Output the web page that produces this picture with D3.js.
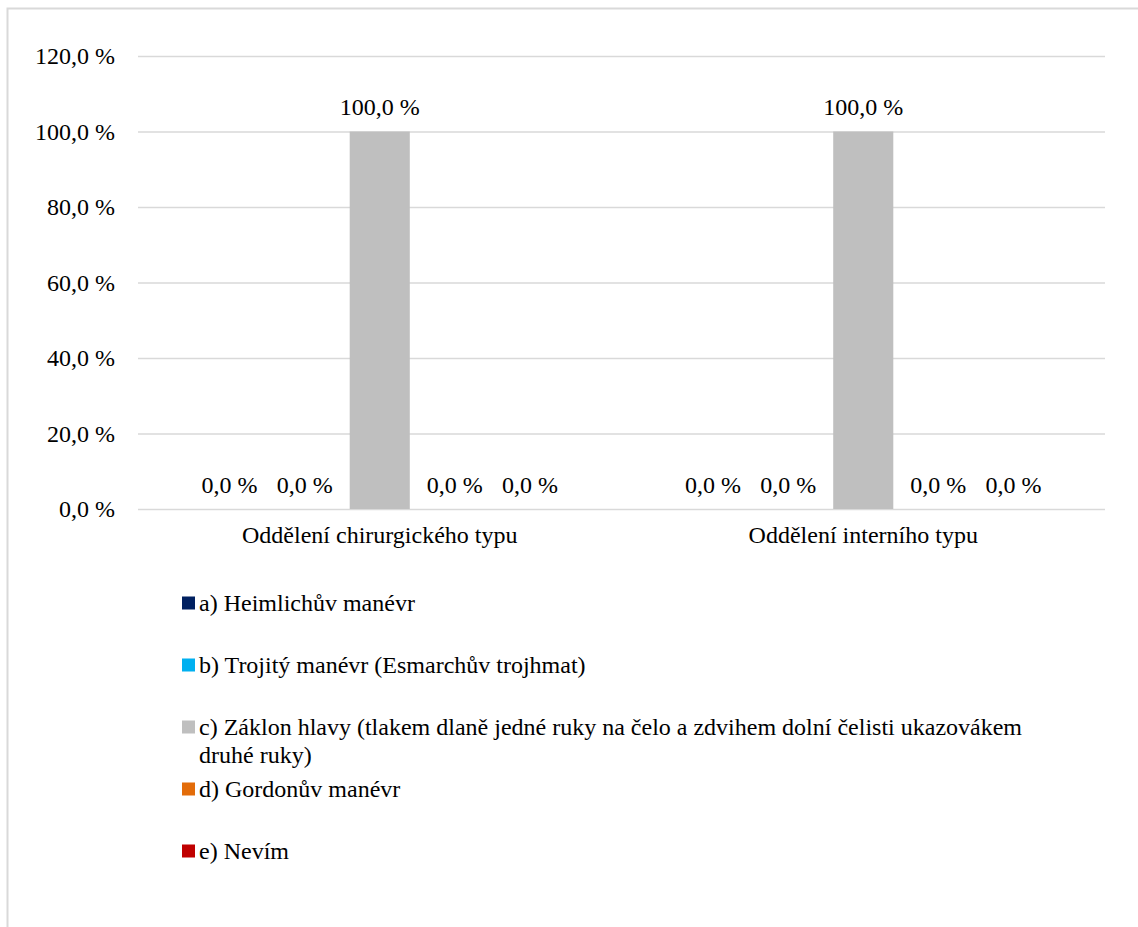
<!DOCTYPE html>
<html>
<head>
<meta charset="utf-8">
<script src="https://cdn.jsdelivr.net/npm/d3@7"></script>
<style>
  html, body { margin: 0; padding: 0; background: #fff; }
  svg { display: block; }
</style>
</head>
<body>
<svg id="chart" width="1138" height="927"></svg>
<script>
// Departments (category groups)
const categories = ["Oddělení chirurgického typu", "Oddělení interního typu"];

// Answer options (series)
const series = [
  "a) Heimlichův manévr",
  "b) Trojitý manévr (Esmarchův trojhmat)",
  "c) Záklon hlavy (tlakem dlaně jedné ruky na čelo a zdvihem dolní čelisti ukazovákem druhé ruky)",
  "d) Gordonův manévr",
  "e) Nevím"
];
const seriesColors = ["#002060", "#00b0f0", "#bfbfbf", "#e36c09", "#c00000"];

// Share of respondents per option, one array per department
const surgicalValues = [0.0, 0.0, 1.0, 0.0, 0.0];
const internalValues = [0.0, 0.0, 1.0, 0.0, 0.0];

// Value axis ticks
const yTicks = [0, 0.2, 0.4, 0.6, 0.8, 1.0, 1.2];

const valuesByCategory = [surgicalValues, internalValues];
const rows = categories.map((c, i) => ({
  category: c,
  values: series.map((s, j) => ({ key: s, value: valuesByCategory[i][j], idx: j }))
}));

const FONT = "Liberation Serif";
const fontSize = 24;
const W = 1138, H = 927;

const svg = d3.select("#chart")
  .attr("font-family", FONT)
  .style("font-family", `"${FONT}"`);

// Outer chart frame
svg.append("rect")
  .attr("x", 7.5).attr("y", 8.5)
  .attr("width", W + 20).attr("height", H + 20)
  .attr("fill", "#fff").attr("stroke", "#d9d9d9").attr("stroke-width", 2);

const plot = { left: 138, right: 1105, top: 56, bottom: 509 };
const fmt = v => d3.format(".1f")(v * 100).replace(".", ",") + " %";

const y = d3.scaleLinear().domain([0, 1.2]).range([plot.bottom, plot.top]);
const x0 = d3.scaleBand().domain(categories).range([plot.left, plot.right]).padding(0);
const groupPad = 61.5;
const x1 = d3.scaleBand().domain(series)
  .range([groupPad, x0.bandwidth() - groupPad])
  .paddingInner(0.2).paddingOuter(0);

// Horizontal gridlines
const grid = svg.append("g")
  .attr("transform", `translate(${plot.left},0)`)
  .call(d3.axisLeft(y).tickValues(yTicks).tickSize(-(plot.right - plot.left)).tickFormat(""));
grid.select(".domain").remove();
grid.selectAll("line").attr("stroke", "#d9d9d9").attr("stroke-width", 1.5);

// Value axis labels
const yAxis = svg.append("g")
  .attr("transform", `translate(${plot.left},0)`)
  .call(d3.axisLeft(y).tickValues(yTicks).tickSize(0).tickPadding(23).tickFormat(fmt))
  .attr("font-family", FONT).attr("font-size", fontSize);
yAxis.select(".domain").remove();
yAxis.selectAll("text").style("font-family", `"${FONT}"`).attr("fill", "#000");

// Bars
const groups = svg.append("g").selectAll("g")
  .data(rows).join("g")
  .attr("transform", d => `translate(${x0(d.category)},0)`);

groups.selectAll("rect")
  .data(d => d.values).join("rect")
  .attr("x", d => x1(d.key))
  .attr("width", x1.bandwidth())
  .attr("y", d => y(d.value))
  .attr("height", d => y(0) - y(d.value))
  .attr("fill", d => seriesColors[d.idx]);

// Data labels above each bar
groups.selectAll("text.val")
  .data(d => d.values).join("text")
  .attr("class", "val")
  .attr("x", d => x1(d.key) + x1.bandwidth() / 2)
  .attr("y", d => y(d.value) - 16.5)
  .attr("text-anchor", "middle")
  .style("font-family", `"${FONT}"`)
  .style("font-size", fontSize + "px")
  .attr("fill", "#000")
  .text(d => fmt(d.value));

// Category axis labels
const xAxis = svg.append("g")
  .attr("transform", `translate(0,${plot.bottom})`)
  .call(d3.axisBottom(x0).tickSize(0).tickPadding(17))
  .attr("font-family", FONT).attr("font-size", fontSize);
xAxis.select(".domain").remove();
xAxis.selectAll("text").style("font-family", `"${FONT}"`).attr("fill", "#000");

// Legend
const legend = svg.append("g");
const legendX = 182, legendY0 = 603, legendStep = 62, legendMaxWidth = 850;
const items = legend.selectAll("g")
  .data(series).join("g")
  .attr("transform", (d, i) => `translate(${legendX},${legendY0 + i * legendStep})`);

items.append("rect")
  .attr("x", 0).attr("y", -6.5)
  .attr("width", 13).attr("height", 13)
  .attr("fill", (d, i) => seriesColors[i]);

items.append("text")
  .attr("x", 17).attr("y", 8)
  .style("font-family", `"${FONT}"`)
  .style("font-size", fontSize + "px")
  .attr("fill", "#000")
  .each(function (d) {
    const t = d3.select(this);
    const words = d.split(" ");
    let line = [];
    let tspan = t.append("tspan").attr("x", 17).attr("dy", 0);
    words.forEach(w => {
      line.push(w);
      tspan.text(line.join(" "));
      if (tspan.node().getComputedTextLength() > legendMaxWidth && line.length > 1) {
        line.pop();
        tspan.text(line.join(" "));
        line = [w];
        tspan = t.append("tspan").attr("x", 17).attr("dy", 28).text(w);
      }
    });
  });
</script>
</body>
</html>
